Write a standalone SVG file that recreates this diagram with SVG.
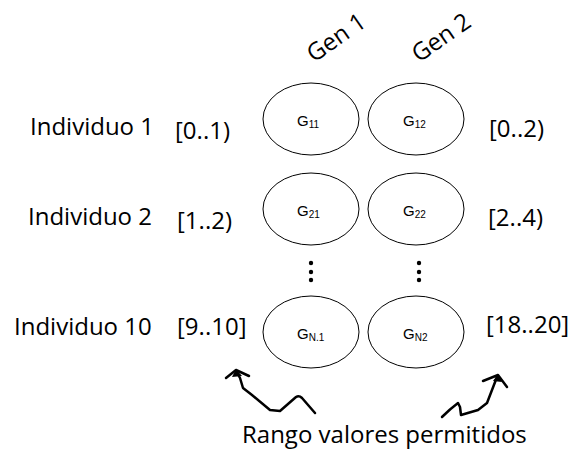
<svg xmlns="http://www.w3.org/2000/svg" width="572" height="452" viewBox="0 0 572 452">
  <style>
    .lbl { font-family: "Open Sans", "Liberation Sans", sans-serif; font-size: 24px; fill: #000; }
    .gene { fill: #fff; stroke: #000; stroke-width: 1; }
    .g { font-family: "Liberation Sans", Arial, sans-serif; font-size: 15px; fill: #000; }
    .sub { font-size: 10px; }
    .curl { fill: none; stroke: #000; stroke-width: 2.5; stroke-linejoin: round; stroke-linecap: round; }
  </style>
  <rect width="572" height="452" fill="#fff"/>

  <!-- column headers, tilted 35 degrees -->
  <g id="gen1" transform="translate(314,63) rotate(-35)"><text class="lbl" x="0" y="0">Gen 1</text></g>
  <g id="gen2" transform="translate(419,63) rotate(-35)"><text class="lbl" x="0" y="0">Gen 2</text></g>

  <!-- row labels and ranges -->
  <g id="ind1">
    <text class="lbl" x="30" y="135">Individuo 1</text>
    <text class="lbl" x="175" y="139">[0..1)</text>
  </g>
  <g id="ind2">
    <text class="lbl" x="28" y="225">Individuo 2</text>
    <text class="lbl" x="177" y="229">[1..2)</text>
  </g>
  <g id="ind10">
    <text class="lbl" x="14" y="335">Individuo 10</text>
    <text class="lbl" x="177" y="335">[9..10]</text>
  </g>
  <g id="range2">
    <text class="lbl" x="489" y="137">[0..2)</text>
    <text class="lbl" x="488" y="226">[2..4)</text>
    <text class="lbl" x="486" y="333">[18..20]</text>
  </g>

  <!-- gene cells -->
  <g id="g11"><ellipse class="gene" cx="311" cy="119" rx="48" ry="36"/><text class="g" x="297" y="126">G<tspan class="sub" dy="2">11</tspan></text></g>
  <g id="g12"><ellipse class="gene" cx="416" cy="119" rx="48" ry="36"/><text class="g" x="403" y="126">G<tspan class="sub" dy="2">12</tspan></text></g>
  <g id="g21"><ellipse class="gene" cx="311" cy="209" rx="48" ry="36"/><text class="g" x="297" y="216">G<tspan class="sub" dy="2">21</tspan></text></g>
  <g id="g22"><ellipse class="gene" cx="416" cy="209" rx="48" ry="36"/><text class="g" x="403" y="216">G<tspan class="sub" dy="2">22</tspan></text></g>
  <g id="gN1"><ellipse class="gene" cx="311" cy="332" rx="48" ry="36"/><text class="g" x="297" y="339">G<tspan class="sub" dy="2">N.1</tspan></text></g>
  <g id="gN2"><ellipse class="gene" cx="416" cy="332" rx="48" ry="36"/><text class="g" x="403" y="339">G<tspan class="sub" dy="2">N2</tspan></text></g>

  <!-- ellipsis dots -->
  <g id="dots" fill="#000">
    <circle cx="311" cy="263" r="2.2"/><circle cx="311" cy="272" r="2.2"/><circle cx="311" cy="280" r="2.2"/>
    <circle cx="419" cy="263" r="2.2"/><circle cx="419" cy="272" r="2.2"/><circle cx="419" cy="280" r="2.2"/>
  </g>

  <!-- hand-drawn pointers to the ranges -->
  <g id="connectors">
    <path class="curl" d="M315,413 L302,398 Q299,395 296,397 L280,411 L270,410 L252,395 L243,388 L240,378 L236,371"/>
    <path class="curl" d="M226,378 L236,370 L249,376"/>
    <polygon points="236,369 232,377 242,376" fill="#000"/>
    <path class="curl" d="M442,417 Q450,409 458,403 L460,407 L461,415 L478,410 L487,403 L497,377"/>
    <path class="curl" d="M483,381 L498,375 L507,387"/>
    <polygon points="498,374 493,381 502,382" fill="#000"/>
  </g>

  <g id="caption"><text class="lbl" x="242" y="443">Rango valores permitidos</text></g>
</svg>
